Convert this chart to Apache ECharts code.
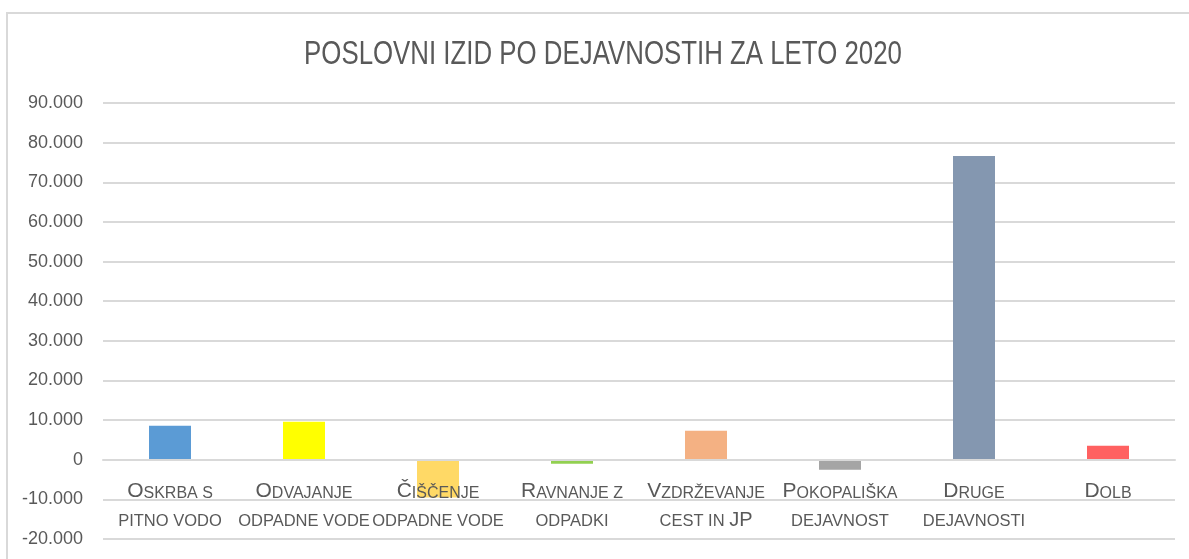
<!DOCTYPE html>
<html>
<head>
<meta charset="utf-8">
<script src="https://cdn.jsdelivr.net/npm/echarts@6/dist/echarts.min.js"></script>
<style>
  html, body { margin: 0; padding: 0; background: #fff; }
  #main { width: 1189px; height: 559px; }
</style>
</head>
<body>
<div id="main"></div>
<script>
// data
var categories = ['Oskrba s pitno vodo', 'Odvajanje odpadne vode', 'Čiščenje odpadne vode',
    'Ravnanje z odpadki', 'Vzdrževanje cest in JP', 'Pokopališka dejavnost',
    'Druge dejavnosti', 'Dolb'];
// small-caps pieces of each label: [first letter, rest of line 1, line 2, capital tail of line 2]
var labelParts = [
    ['O', 'SKRBA S', 'PITNO VODO', ''],
    ['O', 'DVAJANJE', 'ODPADNE VODE', ''],
    ['Č', 'IŠČENJE', 'ODPADNE VODE', ''],
    ['R', 'AVNANJE Z', 'ODPADKI', ''],
    ['V', 'ZDRŽEVANJE', 'CEST IN ', 'JP'],
    ['P', 'OKOPALIŠKA', 'DEJAVNOST', ''],
    ['D', 'RUGE', 'DEJAVNOSTI', ''],
    ['D', 'OLB', '', '']
];
var values = [8600, 9600, -9500, -1000, 7300, -2500, 76600, 3500];
var barColors = ['#5B9BD5', '#FFFF00', '#FFD966', '#92D050', '#F4B183', '#A5A5A5', '#8497B0', '#FF6161'];
var titleText = 'POSLOVNI IZID PO DEJAVNOSTIH ZA LETO 2020';

var font = 'Liberation Sans, Arial, sans-serif';
var grey = '#595959';

function fmt(v) {
    var s = Math.abs(v).toString().replace(/\B(?=(\d{3})+(?!\d))/g, '.');
    return (v < 0 ? '-' : '') + s;
}

var chart = echarts.init(document.getElementById('main'));
chart.setOption({
    animation: false,
    backgroundColor: '#fff',
    graphic: [{
        type: 'rect',
        shape: { x: 7, y: 13, width: 1200, height: 560 },
        style: { fill: 'none', stroke: '#D9D9D9', lineWidth: 2 },
        silent: true
    }, {
        // title squeezed horizontally to mimic the narrow font
        type: 'text',
        x: 603,
        y: 55,
        scaleX: 0.76,
        style: {
            text: titleText,
            font: 'normal 34px ' + font,
            fill: grey,
            align: 'center',
            verticalAlign: 'middle'
        },
        silent: true
    }],
    grid: { left: 103, right: 14, top: 103, bottom: 20, containLabel: false, outerBoundsMode: 'none' },
    xAxis: {
        type: 'category',
        data: categories,
        z: 5,
        // labels sit just under the zero line (grid bottom is 79px below zero)
        offset: -79,
        axisLine: { show: true, onZero: false, lineStyle: { color: '#D9D9D9', width: 2 } },
        axisTick: { show: false },
        axisLabel: {
            interval: 0,
            margin: 16,
            formatter: function (v, i) {
                var p = labelParts[i];
                var line2 = p[2] ? '{s2|' + p[2] + '}' : '{s2| }';
                if (p[3]) line2 += '{b2|' + p[3] + '}';
                return '{b|' + p[0] + '}{s|' + p[1] + '}\n' + line2;
            },
            rich: {
                b: { fontFamily: font, fontSize: 21, color: grey, lineHeight: 26, verticalAlign: 'bottom' },
                s: { fontFamily: font, fontSize: 16, color: grey, lineHeight: 26, verticalAlign: 'bottom' },
                s2: { fontFamily: font, fontSize: 16.5, color: grey, lineHeight: 28, verticalAlign: 'bottom' },
                b2: { fontFamily: font, fontSize: 20, color: grey, lineHeight: 28, verticalAlign: 'bottom' }
            }
        }
    },
    yAxis: {
        type: 'value',
        min: -20000,
        max: 90000,
        interval: 10000,
        axisLine: { show: false },
        axisTick: { show: false },
        splitLine: { lineStyle: { color: '#D9D9D9', width: 2 } },
        axisLabel: {
            margin: 20,
            fontFamily: font,
            fontSize: 18,
            color: grey,
            formatter: fmt
        }
    },
    series: [{
        type: 'bar',
        data: values.map(function (v, i) {
            return { value: v, itemStyle: { color: barColors[i] } };
        }),
        barWidth: 42,
        z: 1
    }]
});
</script>
</body>
</html>
